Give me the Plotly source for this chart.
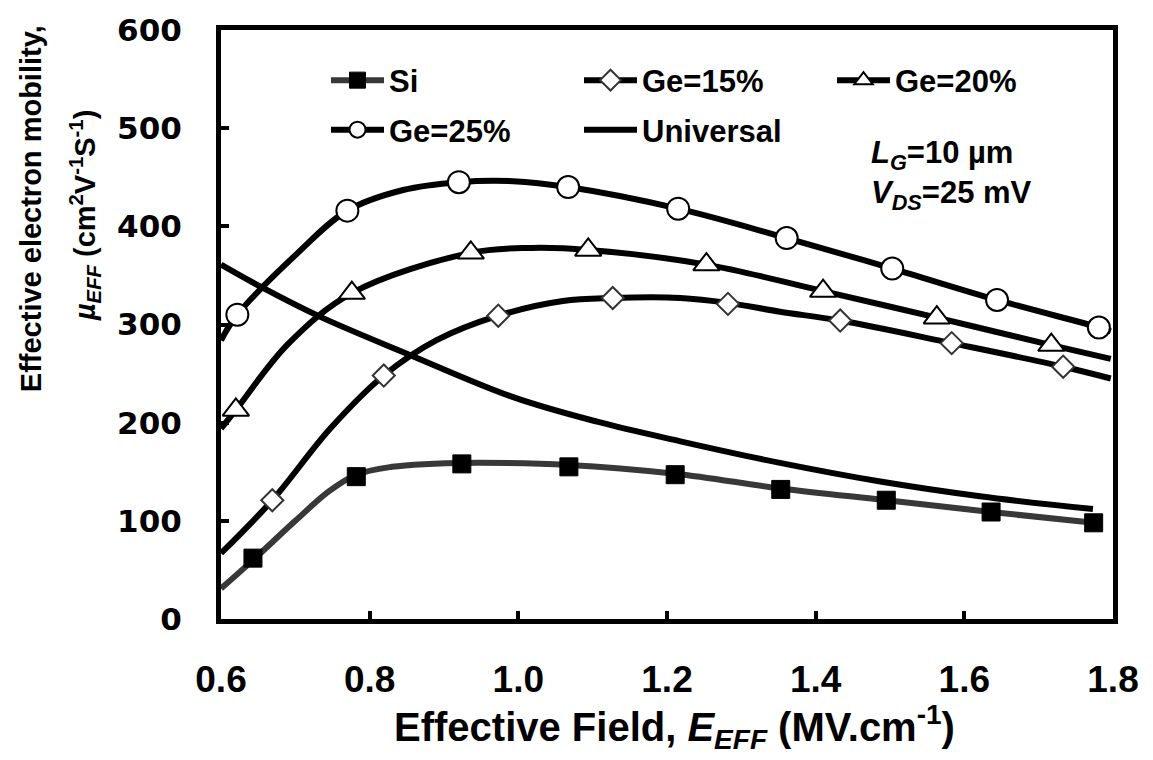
import plotly.graph_objects as go

# ---- data ----
E_si = [0.643, 0.782, 0.924, 1.068, 1.211, 1.353, 1.495, 1.636, 1.774]
mu_si = [62, 145, 158, 155, 147, 132, 121, 109, 98]

E_ge15 = [0.669, 0.819, 0.973, 1.127, 1.282, 1.433, 1.583, 1.733]
mu_ge15 = [121, 248, 309, 327, 321, 304, 281, 257]

E_ge20 = [0.620, 0.776, 0.936, 1.094, 1.253, 1.410, 1.563, 1.717]
mu_ge20 = [213, 332, 373, 376, 361, 334, 307, 279]

E_ge25 = [0.622, 0.770, 0.920, 1.067, 1.215, 1.361, 1.503, 1.644, 1.781]
mu_ge25 = [310, 416, 445, 440, 418, 388, 357, 325, 297]

# smoothed fit curves
fitE_si = [0.6, 0.643, 0.70, 0.745, 0.782, 0.83, 0.88, 0.924, 1.068, 1.211, 1.353, 1.495, 1.636, 1.774]
fitmu_si = [31, 60, 100, 130, 147, 155, 158, 159, 157, 148, 133, 121, 109, 98]

fitE_ge15 = [0.6, 0.669, 0.747, 0.819, 0.890, 0.973, 1.06, 1.127, 1.218, 1.282, 1.352, 1.433, 1.583, 1.733, 1.797]
fitmu_ge15 = [67, 121, 194, 248, 284, 309, 324, 327, 327, 322, 313, 304, 281, 257, 245]

fitE_ge20 = [0.6, 0.620, 0.690, 0.776, 0.936, 1.017, 1.094, 1.253, 1.410, 1.563, 1.717, 1.797]
fitmu_ge20 = [194, 213, 280, 332, 373, 378, 376, 361, 334, 307, 279, 265]

fitE_ge25 = [0.6, 0.622, 0.702, 0.770, 0.845, 0.920, 0.993, 1.067, 1.215, 1.361, 1.503, 1.644, 1.781, 1.797]
fitmu_ge25 = [284, 310, 372, 416, 437, 445, 446, 440, 418, 388, 357, 325, 297, 293]

E_uni = [0.6, 0.652, 0.733, 0.854, 0.993, 1.106, 1.218, 1.352, 1.487, 1.621, 1.773]
mu_uni = [361, 339, 308, 269, 226, 201, 181, 159, 140, 125, 112]

x_ticks = [0.6, 0.8, 1.0, 1.2, 1.4, 1.6, 1.8]
y_ticks = [0, 100, 200, 300, 400, 500, 600]

FONT = "Liberation Sans, Arial, sans-serif"
LW = 6

series = [
    ("Si", fitE_si, fitmu_si, E_si, mu_si, "#383838",
     dict(symbol="square", size=18, color="black", line=dict(color="black", width=1)), "legend"),
    ("Ge=15%", fitE_ge15, fitmu_ge15, E_ge15, mu_ge15, "black",
     dict(symbol="diamond", size=17, color="white", line=dict(color="#333333", width=2)), "legend"),
    ("Ge=20%", fitE_ge20, fitmu_ge20, E_ge20, mu_ge20, "black",
     dict(symbol="triangle-up", size=23, color="white", line=dict(color="black", width=2)), "legend"),
    ("Ge=25%", fitE_ge25, fitmu_ge25, E_ge25, mu_ge25, "black",
     dict(symbol="circle", size=22, color="white", line=dict(color="black", width=2)), "legend2"),
]

fig = go.Figure()

for name, fx, fy, mx, my, lc, mk, lg in series:
    fig.add_trace(go.Scatter(x=fx, y=fy, mode="lines", line=dict(color=lc, width=LW, shape="spline"),
                             showlegend=False, hoverinfo="skip"))
fig.add_trace(go.Scatter(x=E_uni, y=mu_uni, mode="lines", line=dict(color="black", width=LW, shape="spline"),
                         showlegend=False, hoverinfo="skip"))

for name, fx, fy, mx, my, lc, mk, lg in series:
    fig.add_trace(go.Scatter(x=mx, y=my, mode="markers", marker=mk, showlegend=False))

for name, fx, fy, mx, my, lc, mk, lg in series:
    fig.add_trace(go.Scatter(x=[None], y=[None], mode="lines+markers", name=name,
                             line=dict(color=lc, width=LW), marker=mk, legend=lg))
fig.add_trace(go.Scatter(x=[None], y=[None], mode="lines", name="Universal",
                         line=dict(color="black", width=LW), legend="legend2"))

PL, PR, PT, PB = 221, 1113, 24, 619
W, H = 1153, 760

def px2paper_x(px):
    return (px - PL) / (PR - PL)

def px2paper_y(py):
    return (PB - py) / (PB - PT)

legend_common = dict(orientation="h", font=dict(family=FONT, size=31, color="black", weight="bold"),
                     itemwidth=53, entrywidth=185, bgcolor="rgba(0,0,0,0)",
                     xanchor="left", yanchor="middle", traceorder="normal")

fig.update_layout(
    width=W, height=H,
    margin=dict(l=PL, r=W - PR, t=PT, b=H - PB),
    plot_bgcolor="white", paper_bgcolor="white",
    legend=dict(x=px2paper_x(326), y=px2paper_y(75), **legend_common),
    legend2=dict(x=px2paper_x(326), y=px2paper_y(125), **legend_common),
    xaxis=dict(range=[0.6, 1.8], tickvals=x_ticks, ticktext=[f"{v:.1f}" for v in x_ticks],
               ticks="inside", ticklen=8, tickwidth=4, tickcolor="black",
               showline=True, linewidth=5, linecolor="black", mirror=True,
               showgrid=False, zeroline=False, ticklabelstandoff=24,
               tickfont=dict(family=FONT, size=37, color="black", weight="bold")),
    yaxis=dict(range=[0, 600], tickvals=y_ticks,
               ticks="inside", ticklen=8, tickwidth=4, tickcolor="black",
               showline=True, linewidth=5, linecolor="black", mirror=True,
               showgrid=False, zeroline=False, ticklabelstandoff=28,
               tickfont=dict(family="DejaVu Sans, sans-serif", size=31, color="black", weight="bold")),
    showlegend=True,
)

annos = [
    dict(text="<i>L<sub>G</sub></i>=10 µm<br><i>V<sub>DS</sub></i>=25 mV",
         x=px2paper_x(869), y=px2paper_y(170), xanchor="left", yanchor="middle", align="left",
         font=dict(family=FONT, size=31, color="black", weight="bold")),
    dict(text="Effective electron mobility,", textangle=-90,
         x=px2paper_x(31), y=px2paper_y(205), xanchor="center", yanchor="middle",
         font=dict(family=FONT, size=29, color="black", weight="bold")),
    dict(text="<i>µ<sub>EFF</sub></i> (cm<sup>2</sup>V<sup>-1</sup>S<sup>-1</sup>)", textangle=-90,
         x=px2paper_x(85), y=px2paper_y(212), xanchor="center", yanchor="middle",
         font=dict(family=FONT, size=29, color="black", weight="bold")),
    dict(text="Effective Field, <i>E<sub>EFF</sub></i> (MV.cm<sup>-1</sup>)",
         x=px2paper_x(674), y=px2paper_y(728), xanchor="center", yanchor="middle",
         font=dict(family=FONT, size=40, color="black", weight="bold")),
]
for a in annos:
    fig.add_annotation(xref="paper", yref="paper", showarrow=False, **a)

fig.write_html("out.html")
